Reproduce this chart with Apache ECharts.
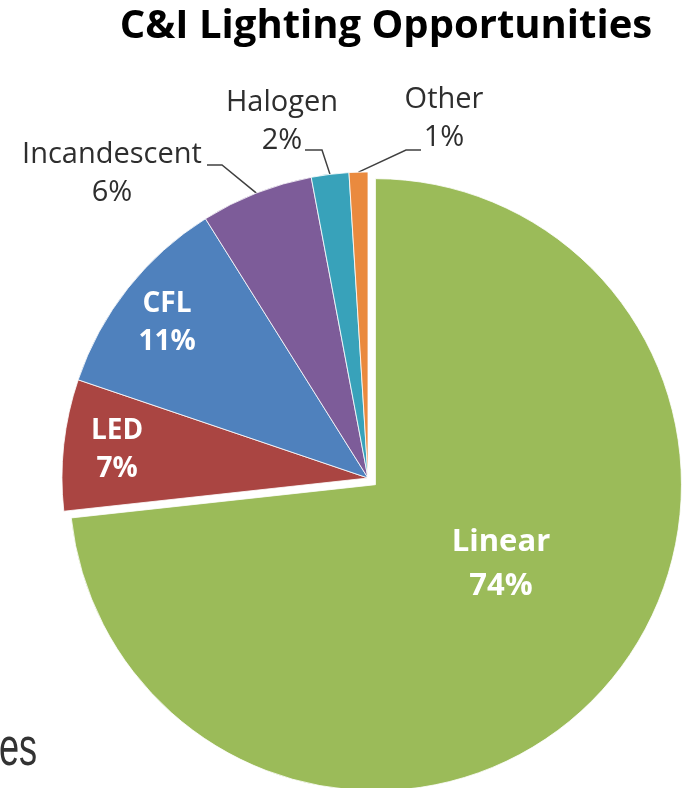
<!DOCTYPE html>
<html><head><meta charset="utf-8">
<script src="https://cdn.jsdelivr.net/npm/echarts@6/dist/echarts.min.js"></script>
<style>html,body{margin:0;padding:0;background:#fff}#c{width:688px;height:788px}</style>
</head><body><div id="c"></div>
<script>
// ---- data ----
const categories = ['Linear', 'LED', 'CFL', 'Incandescent', 'Halogen', 'Other'];
const shares = [74, 7, 11, 6, 2, 1];
const percentLabels = ['74%', '7%', '11%', '6%', '2%', '1%'];
const titleText = 'C&I Lighting Opportunities';
const cutText = 'es';

// ---- styling / layout (not data) ----
const sliceColors = ['#9BBB59', '#AA4542', '#4F81BD', '#7D5C99', '#38A2BA', '#EA8A3E'];
const insideNames = ['Linear', 'LED', 'CFL'];
const explodedName = 'Linear';
const labelPos = {
  Linear: [501, 564], LED: [117, 450], CFL: [167, 323],
  Incandescent: [112, 174], Halogen: [282, 122], Other: [444, 119]
};
const lineBend = {
  Incandescent: [[222, 165], [207, 165]],
  Halogen: [[322, 150], [305, 150]],
  Other: [[406, 150], [421, 150]]
};
const FONT = 'Open Sans';
const CENTER = [368, 478];
const RADIUS = 306;
const EXPLODE = 10;

// explode vector for the separated slice, from its mid angle
const total = shares.reduce((a, b) => a + b, 0);
const exIdx = categories.indexOf(explodedName);
let before = 0;
for (let i = 0; i < exIdx; i++) before += shares[i];
const midDeg = 90 - (before + shares[exIdx] / 2) / total * 360; // clockwise from 12 o'clock
const midRad = midDeg * Math.PI / 180;
const exCenter = [CENTER[0] + EXPLODE * Math.cos(midRad), CENTER[1] - EXPLODE * Math.sin(midRad)];

function makeData(showExploded) {
  return categories.map((n, i) => {
    const visible = (n === explodedName) === showExploded;
    const inside = insideNames.indexOf(n) >= 0;
    if (!visible) {
      return { name: n, value: shares[i],
        itemStyle: { color: 'rgba(0,0,0,0)', borderWidth: 0 },
        label: { show: false }, labelLine: { show: false } };
    }
    return {
      name: n,
      value: shares[i],
      itemStyle: { color: sliceColors[i] },
      label: inside
        ? { show: true, position: 'inside', color: '#fff', fontWeight: 'bold', fontFamily: FONT,
            fontSize: i === 0 ? 31 : 28, lineHeight: i === 0 ? 44 : 38 }
        : { show: true, position: 'outside', color: '#2e2e2e', fontFamily: FONT, fontSize: 29, lineHeight: 38 },
      labelLine: { show: !inside }
    };
  });
}

function pieSeries(center, showExploded) {
  return {
    type: 'pie',
    center: center,
    radius: RADIUS,
    startAngle: 90,
    clockwise: true,
    avoidLabelOverlap: false,
    silent: true,
    emphasis: { disabled: true },
    itemStyle: { borderColor: '#fff', borderWidth: 0.8 },
    label: {
      formatter: p => p.name + '\n' + percentLabels[p.dataIndex]
    },
    labelLine: { lineStyle: { color: '#404040', width: 1.5 }, length: 20, length2: 10 },
    labelLayout: function (p) {
      const name = categories[p.dataIndex];
      const pos = labelPos[name];
      const out = { x: pos[0], y: pos[1], align: 'center', verticalAlign: 'middle' };
      if (lineBend[name] && p.labelLinePoints) {
        out.labelLinePoints = [p.labelLinePoints[0], lineBend[name][0], lineBend[name][1]];
      }
      return out;
    },
    data: makeData(showExploded)
  };
}

const chart = echarts.init(document.getElementById('c'), null, { renderer: 'canvas' });
chart.setOption({
  animation: false,
  backgroundColor: '#fff',
  title: {
    text: titleText, left: 386, top: 7, textAlign: 'center', padding: 0,
    textStyle: { fontSize: 40, fontWeight: 'bold', color: '#000', fontFamily: FONT }
  },
  graphic: [{
    type: 'text', x: -1, y: 750, scaleX: 0.67, silent: true,
    style: { text: cutText, font: '54px "Liberation Sans"', fill: '#333', verticalAlign: 'middle' }
  }],
  series: [pieSeries(CENTER, false), pieSeries(exCenter, true)]
});
</script>
</body></html>
